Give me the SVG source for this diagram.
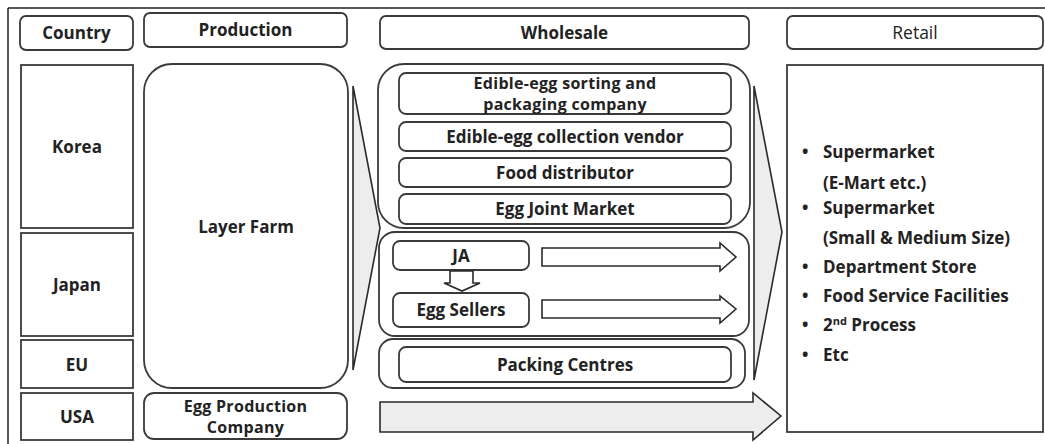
<svg xmlns="http://www.w3.org/2000/svg" width="1045" height="444" viewBox="0 0 1045 444">
<style>
.b{fill:#fff;stroke:#3a3a3a;stroke-width:1.8}
.g{fill:#ededed;stroke:#2a2a2a;stroke-width:1.6}
.w{fill:#fff;stroke:#2a2a2a;stroke-width:1.6}
text{font-family:"Open Sans","DejaVu Sans",sans-serif;font-size:17px;font-weight:bold;fill:#222;text-anchor:middle}
.l{text-anchor:start}
.r{font-weight:normal;font-size:17.5px}
.t{font-size:16px;letter-spacing:0.3px}
</style>
<rect x="0" y="0" width="1045" height="444" fill="#fff"/>
<g id="frame"><path d="M8 8H1045M8 8V444" fill="none" stroke="#222" stroke-width="1.5"/></g>
<g id="hdr-country"><rect class="b" x="20" y="16" width="113" height="34" rx="6"/><text x="76.5" y="39">Country</text></g>
<g id="hdr-production"><rect class="b" x="144" y="13" width="203" height="34" rx="6"/><text x="245.5" y="36">Production</text></g>
<g id="hdr-wholesale"><rect class="b" x="380" y="16" width="369" height="33" rx="6"/><text x="564.5" y="39">Wholesale</text></g>
<g id="hdr-retail"><rect class="b" x="787" y="16" width="256" height="33" rx="6"/><text class="r" x="915" y="39">Retail</text></g>
<g id="korea"><rect class="b" x="21" y="65" width="112" height="163"/><text x="77" y="153">Korea</text></g>
<g id="japan"><rect class="b" x="21" y="233" width="112" height="103"/><text x="77" y="291">Japan</text></g>
<g id="eu"><rect class="b" x="21" y="340" width="112" height="48"/><text x="77" y="371">EU</text></g>
<g id="usa"><rect class="b" x="21" y="393" width="112" height="47"/><text x="77" y="423">USA</text></g>
<g id="layer-farm"><rect class="b" x="144" y="64" width="204" height="324" rx="28"/><text x="246" y="233">Layer Farm</text></g>
<g id="egg-production-company"><rect class="b" x="144" y="393" width="203" height="46" rx="10"/><text class="t" x="245.5" y="411.5">Egg Production</text><text class="t" x="245.5" y="433">Company</text></g>
<g id="wholesale-korea">
<rect class="b" x="378" y="64" width="372" height="164" rx="26"/>
<g id="sorting"><rect class="b" x="399" y="73" width="332" height="41" rx="7"/><text class="t" x="565" y="88.5">Edible-egg sorting and</text><text class="t" x="565" y="110">packaging company</text></g>
<g id="collection"><rect class="b" x="399" y="122" width="332" height="29" rx="7"/><text x="565" y="143">Edible-egg collection vendor</text></g>
<g id="food-distributor"><rect class="b" x="399" y="158" width="332" height="29" rx="7"/><text x="565" y="178.5">Food distributor</text></g>
<g id="egg-joint-market"><rect class="b" x="399" y="194" width="332" height="30" rx="7"/><text x="565" y="215">Egg Joint Market</text></g>
</g>
<g id="wholesale-japan">
<rect class="b" x="379" y="232" width="370" height="104" rx="16"/>
<g id="ja"><rect class="b" x="393" y="241" width="136" height="29" rx="7"/><text x="461" y="262">JA</text></g>
<g id="egg-sellers"><rect class="b" x="393" y="293" width="136" height="34" rx="7"/><text x="461" y="316">Egg Sellers</text></g>
</g>
<g id="wholesale-eu">
<rect class="b" x="379" y="339" width="366" height="49" rx="14"/>
<g id="packing-centres"><rect class="b" x="399" y="347" width="332" height="35" rx="7"/><text x="565" y="371">Packing Centres</text></g>
</g>
<g id="retail"><rect class="b" x="787" y="65" width="256" height="367"/>
<text class="l" x="802" y="158">•</text><text class="l" x="823" y="158">Supermarket</text>
<text class="l" x="823" y="189">(E-Mart etc.)</text>
<text class="l" x="802" y="214">•</text><text class="l" x="823" y="214">Supermarket</text>
<text class="l" x="823" y="244">(Small &amp; Medium Size)</text>
<text class="l" x="802" y="273">•</text><text class="l" x="823" y="273">Department Store</text>
<text class="l" x="802" y="302">•</text><text class="l" x="823" y="302">Food Service Facilities</text>
<text class="l" x="802" y="331">•</text><text class="l" x="823" y="331">2<tspan font-size="11" dy="-6">nd</tspan><tspan dy="6"> Process</tspan></text>
<text class="l" x="802" y="361">•</text><text class="l" x="823" y="361">Etc</text>
</g>
<g id="connectors">
<polygon class="g" points="353,86 380,228 353,370"/>
<polygon class="g" points="754,86 782,232 754,380"/>
<polygon class="g" points="380,402 753,402 753,393 781,416 753,440 753,432 380,432"/>
<polygon class="w" points="542,248 720,248 720,243 736,257 720,271 720,266 542,266"/>
<polygon class="w" points="542,300 720,300 720,296 736,309 720,323 720,318 542,318"/>
<polygon class="w" points="450,271 473,271 473,283 480,283 462,291 444,283 450,283"/>
</g>
</svg>
